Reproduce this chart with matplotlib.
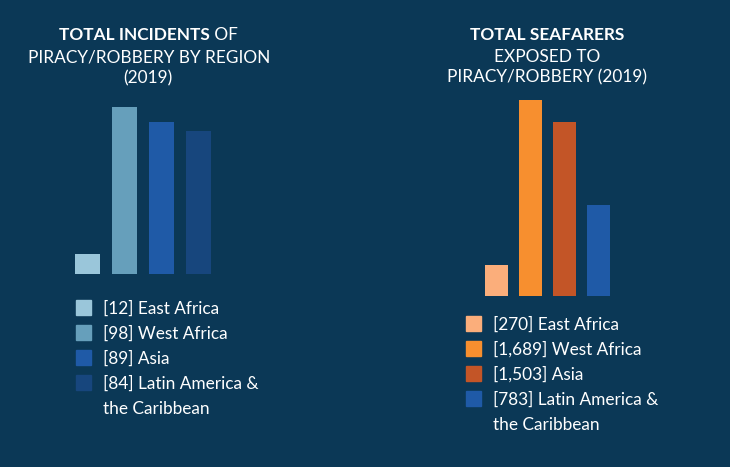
import numpy as np
import matplotlib
matplotlib.use('Agg')
import matplotlib.pyplot as plt
from matplotlib.patches import Rectangle

# %% data
regions = ['East Africa', 'West Africa', 'Asia', 'Latin America &\nthe Caribbean']
incidents = [12, 98, 89, 84]
seafarers = [270, 1689, 1503, 783]

blues = ['#9ac6da', '#669fbb', '#1f5aa7', '#17467d']
oranges = ['#fbae7b', '#f78f2f', '#c35527', '#1f5aa7']

bg = '#0b3856'
txt = '#ffffff'

W, H = 730, 467
fig = plt.figure(figsize=(W/100, H/100), dpi=100, facecolor=bg)

def px_axes(left, base, width, height):
    # pixel box measured from top-left corner of the picture
    return fig.add_axes([left/W, 1-base/H, width/W, height/H])

def fx(x):
    return x/W

def fy(y):
    return 1-y/H

# %% bars
ax1 = px_axes(69, 274, 148, 170.4)
ax1.bar(np.arange(4), incidents, width=0.676, color=blues)
ax1.set_xlim(-0.5, 3.5)
ax1.set_ylim(0, 100)
ax1.axis('off')

ax2 = px_axes(479.5, 296, 136, 197.3)
ax2.bar(np.arange(4), seafarers, width=0.676, color=oranges)
ax2.set_xlim(-0.5, 3.5)
ax2.set_ylim(0, 1700)
ax2.axis('off')

# %% titles
tfont = dict(family='Lato', size=12.4, color=txt)
r = fig.canvas.get_renderer()

def mixed_line(cx, y, bold, normal):
    a = fig.text(0, fy(y), bold, ha='left', va='center_baseline', fontweight='bold', **tfont)
    b = fig.text(0, fy(y), normal, ha='left', va='center_baseline', **tfont)
    wa = a.get_window_extent(r).width
    wb = b.get_window_extent(r).width
    x0 = cx - (wa + wb)/2
    a.set_x(fx(x0))
    b.set_x(fx(x0 + wa))

mixed_line(148, 34, 'TOTAL INCIDENTS', ' OF')
fig.text(fx(149), fy(56), 'PIRACY/ROBBERY BY REGION', ha='center', va='center_baseline', **tfont)
fig.text(fx(148), fy(77), '(2019)', ha='center', va='center_baseline', **tfont)

fig.text(fx(547), fy(33), 'TOTAL SEAFARERS', ha='center', va='center_baseline', fontweight='bold', **tfont)
fig.text(fx(547), fy(55), 'EXPOSED TO', ha='center', va='center_baseline', **tfont)
fig.text(fx(547), fy(76), 'PIRACY/ROBBERY (2019)', ha='center', va='center_baseline', **tfont)

# %% legends
lfont = dict(family='Lato', size=12.4, color=txt)

def legend(x_sq, y0, x_txt, values, colors, fmt):
    row = 0
    for v, c, name in zip(values, colors, regions):
        yc = y0 + row*25
        fig.patches.append(Rectangle((fx(x_sq), fy(yc + 7.5)), 15/W, 15/H,
                                     transform=fig.transFigure, color=c))
        lines = ('[' + fmt(v) + '] ' + name).split('\n')
        for ln in lines:
            fig.text(fx(x_txt), fy(y0 + row*25 + 1), ln, ha='left', va='center', **lfont)
            row = row + 1

legend(76, 307.5, 103, incidents, blues, lambda v: str(v))
legend(466, 323.5, 493, seafarers, oranges, lambda v: f'{v:,}')

plt.savefig('out.png', dpi=100, facecolor=bg)
plt.close()
